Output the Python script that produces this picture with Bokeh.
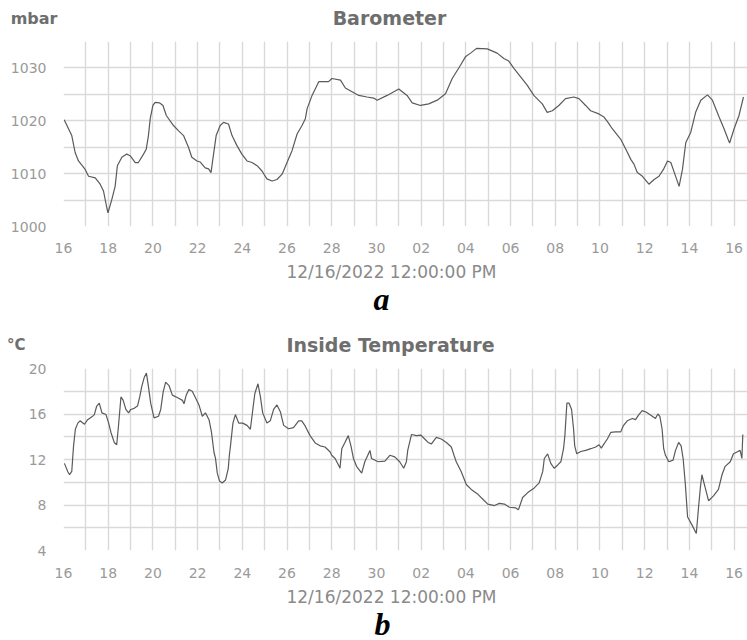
import pandas as pd
from bokeh.plotting import figure
from bokeh.layouts import column
from bokeh.models import FixedTicker, DatetimeTickFormatter, Label, Range1d, LinearAxis
from bokeh.embed import file_html
from bokeh.resources import INLINE

START = pd.Timestamp("2022-11-16 00:00")
X_END_DAYS = 30.6

x_title = "12/16/2022 12:00:00 PM"
tick_days = list(range(0, 31, 2))
grid_days = list(range(0, 31))

# Barometer (days since Nov 16 00:00, mbar)
baro_day = [0.03, 0.37, 0.52, 0.67, 0.97, 1.12, 1.42, 1.64, 1.79, 1.94, 1.99, 2.16, 2.31, 2.41,
            2.61, 2.83, 2.98, 3.21, 3.35, 3.58, 3.70, 3.80, 3.88, 4.0, 4.10, 4.29, 4.45, 4.6,
            4.92, 5.15, 5.37, 5.59, 5.74, 5.97, 6.12, 6.34, 6.49, 6.60, 6.68, 6.83, 7.01, 7.16,
            7.38, 7.54, 7.76, 7.98, 8.21, 8.43, 8.66, 8.88, 9.10, 9.33, 9.55, 9.78, 10.0, 10.22,
            10.45, 10.67, 10.82, 10.9, 11.12, 11.42, 11.86, 12.01, 12.39, 12.61, 12.91, 13.21,
            13.58, 13.88, 14.03, 14.48, 15.0, 15.37, 15.6, 15.97, 16.34, 16.72, 17.09, 17.39,
            17.76, 17.98, 18.21, 18.48, 18.96, 19.4, 19.7, 19.92, 20.15, 20.45, 20.75, 21.04,
            21.42, 21.64, 21.87, 22.16, 22.46, 22.83, 23.06, 23.36, 23.58, 23.95, 24.18, 24.36,
            24.55, 24.63, 24.93, 25.23, 25.38, 25.52, 25.67, 25.9, 26.19, 26.42, 26.64, 26.84,
            27.02, 27.17, 27.35, 27.54, 27.69, 27.84, 28.06, 28.28, 28.51, 28.81, 29.03, 29.33,
            29.55, 29.73, 29.8, 30.0, 30.22, 30.42]
baro_mbar = [1020.2, 1017.2, 1014.0, 1012.4, 1010.8, 1009.5, 1009.2, 1008.0, 1006.7, 1003.5, 1002.6,
             1005.1, 1007.6, 1011.5, 1013.1, 1013.7, 1013.4, 1012.1, 1012.1, 1013.7, 1014.6, 1017.2,
             1020.4, 1022.9, 1023.5, 1023.4, 1022.9, 1021.0, 1019.1, 1018.1, 1017.2, 1015.0, 1013.1,
             1012.4, 1012.2, 1011.1, 1010.9, 1010.2, 1012.7, 1017.2, 1019.1, 1019.7, 1019.4, 1017.2,
             1015.3, 1013.7, 1012.4, 1012.1, 1011.5, 1010.5, 1009.0, 1008.6, 1008.9, 1009.9, 1012.1,
             1014.3, 1017.5, 1019.1, 1020.4, 1022.3, 1024.8, 1027.4, 1027.4, 1028.0, 1027.7, 1026.2,
             1025.5, 1024.8, 1024.5, 1024.3, 1023.9, 1024.8, 1026.0, 1024.8, 1023.4, 1022.9, 1023.2,
             1023.9, 1025.1, 1028.0, 1030.5, 1032.1, 1032.8, 1033.7, 1033.6, 1032.8, 1031.8, 1031.3,
             1029.9, 1028.3, 1026.7, 1024.8, 1023.2, 1021.6, 1021.9, 1022.9, 1024.2, 1024.5, 1024.2,
             1022.9, 1021.9, 1021.3, 1020.7, 1019.7, 1018.5, 1018.1, 1016.5, 1014.0, 1012.7, 1011.8,
             1010.2, 1009.5, 1008.0, 1008.9, 1009.5, 1010.8, 1012.4, 1012.1, 1009.9, 1007.6, 1010.8,
             1015.9, 1017.8, 1021.6, 1023.9, 1024.9, 1023.9, 1020.7, 1018.5, 1016.5, 1015.8, 1018.5,
             1021.0, 1024.5]
baro_ticks = [1000, 1010, 1020, 1030]
baro_grid = [1000, 1005, 1010, 1015, 1020, 1025, 1030, 1035]

# Inside temperature (days since Nov 16 00:00, degrees C)
temp_day = [0.04, 0.19, 0.27, 0.37, 0.41, 0.45, 0.53, 0.64, 0.74, 0.94, 1.08, 1.27, 1.38, 1.48,
            1.6, 1.72, 1.9, 2.02, 2.12, 2.27, 2.38, 2.46, 2.57, 2.67, 2.79, 2.91, 3.01, 3.16, 3.31,
            3.41, 3.5, 3.61, 3.71, 3.8, 3.9, 4.05, 4.25, 4.35, 4.46, 4.57, 4.72, 4.87, 5.09, 5.32,
            5.39, 5.49, 5.61, 5.76, 5.91, 6.06, 6.21, 6.35, 6.51, 6.62, 6.73, 6.8, 6.88, 6.98, 7.1,
            7.25, 7.37, 7.42, 7.47, 7.58, 7.69, 7.84, 8.02, 8.21, 8.36, 8.47, 8.56, 8.7, 8.81, 8.91,
            9.1, 9.25, 9.4, 9.55, 9.7, 9.85, 10.07, 10.29, 10.52, 10.66, 10.81, 11.03, 11.26, 11.48,
            11.7, 11.93, 12.0, 12.15, 12.33, 12.37, 12.45, 12.59, 12.74, 12.86, 12.97, 13.11, 13.34,
            13.48, 13.71, 13.78, 14.08, 14.38, 14.6, 14.82, 15.04, 15.22, 15.34, 15.4, 15.57, 15.79,
            15.98, 16.16, 16.31, 16.46, 16.68, 16.9, 17.13, 17.35, 17.47, 17.57, 17.79, 18.02, 18.24,
            18.54, 18.83, 18.98, 19.28, 19.5, 19.72, 19.95, 20.24, 20.35, 20.54, 20.77, 21.06, 21.28,
            21.44, 21.51, 21.66, 21.8, 21.95, 22.1, 22.25, 22.37, 22.43, 22.52, 22.62, 22.73, 22.82,
            22.87, 22.96, 23.14, 23.36, 23.59, 23.81, 23.96, 24.06, 24.18, 24.33, 24.48, 24.7, 24.93,
            25.04, 25.22, 25.45, 25.59, 25.74, 25.89, 26.08, 26.34, 26.48, 26.59, 26.68, 26.78, 26.85,
            26.93, 27.08, 27.27, 27.38, 27.52, 27.63, 27.72, 27.82, 27.92, 28.12, 28.31, 28.41, 28.49,
            28.56, 28.71, 28.86, 29.08, 29.3, 29.46, 29.6, 29.83, 29.97, 30.13, 30.27, 30.35, 30.39]
temp_c = [11.66, 10.95, 10.66, 10.95, 12.09, 13.2, 14.66, 15.2, 15.4, 15.1, 15.5, 15.75, 15.95, 16.66,
          16.95, 16.1, 15.95, 15.2, 14.4, 13.5, 13.3, 14.95, 17.5, 17.2, 16.4, 16.1, 16.4, 16.5, 16.7,
          17.5, 18.4, 19.2, 19.6, 18.4, 16.95, 15.66, 15.8, 16.4, 17.95, 18.8, 18.5, 17.66, 17.45, 17.2,
          16.9, 17.66, 18.15, 18.0, 17.4, 16.8, 15.8, 16.1, 15.5, 14.4, 12.66, 12.1, 10.8, 10.1, 9.94,
          10.2, 11.2, 12.37, 13.2, 15.2, 15.95, 15.2, 15.2, 15.0, 14.66, 16.4, 17.8, 18.66, 17.5, 16.1,
          15.2, 15.4, 16.4, 16.8, 16.2, 15.0, 14.7, 14.8, 15.4, 15.4, 14.95, 14.1, 13.46, 13.2,
          13.1, 12.66, 12.37, 12.09, 11.4, 11.23, 12.95, 13.5, 14.1, 13.2, 12.09, 11.4, 10.8,
          11.8, 12.8, 12.09, 11.8, 11.86, 12.37, 12.23, 11.8, 11.23, 11.8, 12.8, 14.2, 14.1,
          14.15, 13.8, 13.5, 13.37, 13.95, 13.8, 13.5, 13.1, 12.37, 11.8, 10.95, 9.8, 9.37,
          8.94, 8.37, 8.08, 7.95, 8.14, 8.08, 7.8, 7.74, 7.57, 8.66, 9.09, 9.5, 9.94,
          10.95, 12.09, 12.5, 11.66, 11.23, 11.5, 11.8, 12.95, 14.1, 16.95, 16.95, 16.4, 14.66,
          13.2, 12.5, 12.7, 12.8, 12.95, 13.1, 13.3, 13.0, 13.37, 13.8, 14.38, 14.43, 14.43,
          14.95, 15.4, 15.6, 15.5, 15.95, 16.3, 16.15, 15.8, 15.6, 16.0, 15.8, 14.66, 12.95,
          12.37, 11.8, 11.95, 12.8, 13.5, 13.2, 12.09, 9.8, 6.94, 6.23, 5.5, 7.8, 9.5,
          10.66, 9.5, 8.37, 8.8, 9.37, 10.66, 11.4, 11.8, 12.5, 12.66, 12.8, 12.09, 14.2]
temp_ticks = [4, 8, 12, 16, 20]
temp_grid = [4, 6, 8, 10, 12, 14, 16, 18, 20]

GRID = "#d9d9d9"
LINE = "#5a5a5a"
TITLE_C = "#6e6e6e"
TICK_C = "#9a9a9a"
XT_C = "#8a8a8a"
FONT = "DejaVu Sans"
WIDTH = 747
LEFT = 63   # shared left border (frames line up inside a column)


def ms(d):
    return (START + pd.Timedelta(days=d)).value / 1e6


def text_strip(height, items, unit=None):
    """Blank strip whose data coordinates equal page pixels (x right, y down).
    The unit text sits in the left margin as the single label of a bare y axis."""
    s = figure(width=WIDTH, height=height, output_backend="svg", toolbar_location=None,
               x_range=Range1d(LEFT, WIDTH), y_range=Range1d(height, 0),
               x_axis_location=None, y_axis_location=None,
               min_border_left=LEFT, min_border_right=0, min_border_top=0, min_border_bottom=0)
    s.title.visible = False
    s.outline_line_color = None
    s.xgrid.visible = False
    s.ygrid.visible = False
    if unit is not None:
        text, ymid, standoff, size = unit
        ax = LinearAxis(ticker=FixedTicker(ticks=[ymid]), major_label_overrides={ymid: text})
        ax.axis_line_color = None
        ax.major_tick_line_color = None
        ax.minor_tick_line_color = None
        ax.major_tick_out = 0
        ax.major_tick_in = 0
        ax.major_label_standoff = standoff
        ax.major_label_text_font = FONT
        ax.major_label_text_font_style = "bold"
        ax.major_label_text_font_size = size
        ax.major_label_text_color = TITLE_C
        s.add_layout(ax, "left")
    for it in items:
        s.add_layout(Label(text_baseline="alphabetic", **it))
    return s


def title_label(x, y, text):
    return dict(x=x, y=y, text=text, text_font=FONT, text_font_style="bold",
                text_font_size="19px", text_color=TITLE_C, text_align="center")


def xtitle_label(x, y):
    return dict(x=x, y=y, text=x_title, text_font=FONT, text_font_size="17px",
                text_color=XT_C, text_align="center")


def letter_label(x, y, text):
    return dict(x=x, y=y, text=text, text_font="Liberation Serif", text_font_style="bold italic",
                text_font_size="32px", text_color="black", text_align="center")


def main_panel(height, bt, bb, y_lo, y_hi, days, vals, yticks, ygrid, standoff):
    p = figure(width=WIDTH, height=height, x_axis_type="datetime",
               output_backend="svg", toolbar_location=None,
               x_range=Range1d(ms(0), ms(X_END_DAYS)),
               y_range=Range1d(y_lo, y_hi),
               min_border_left=LEFT, min_border_right=0, min_border_top=bt, min_border_bottom=bb)
    p.title.visible = False
    p.outline_line_color = None
    p.xaxis.ticker = FixedTicker(ticks=[ms(d) for d in tick_days])
    p.xaxis.formatter = DatetimeTickFormatter(days="%d", months="%d", hours="%d")
    p.yaxis.ticker = FixedTicker(ticks=yticks)
    p.xgrid.ticker = FixedTicker(ticks=[ms(d) for d in grid_days])
    p.ygrid.ticker = FixedTicker(ticks=ygrid)
    for g in (p.xgrid, p.ygrid):
        g.grid_line_color = GRID
        g.grid_line_width = 1.4
    for ax in (p.xaxis, p.yaxis):
        ax.axis_line_color = None
        ax.major_tick_line_color = None
        ax.minor_tick_line_color = None
        ax.major_label_text_font = FONT
        ax.major_label_text_font_size = "14px"
        ax.major_label_text_color = TICK_C
    p.yaxis.major_label_standoff = 11
    p.xaxis.major_label_standoff = standoff
    p.line([ms(d) for d in days], vals, line_color=LINE, line_width=1.2)
    return p


head1 = text_strip(40, [title_label(389, 17, "Barometer")], unit=("mbar", 18, 6, "16px"))
main1 = main_panel(215, 1, 28, 1000, 1035, baro_day, baro_mbar, baro_ticks, baro_grid, 10)
mid = text_strip(104, [xtitle_label(391, 16), letter_label(381, 43, "a"),
                       title_label(390, 89, "Inside Temperature")],
                 unit=("°C", 89, 38, "15px"))
main2 = main_panel(221, 9, 26, 4, 20, temp_day, temp_c, temp_ticks, temp_grid, 11)
foot = text_strip(60, [xtitle_label(391, 16), letter_label(382, 43, "b")])

layout = column(head1, main1, mid, main2, foot, spacing=0)
open("out.html", "w").write(file_html(layout, INLINE))
